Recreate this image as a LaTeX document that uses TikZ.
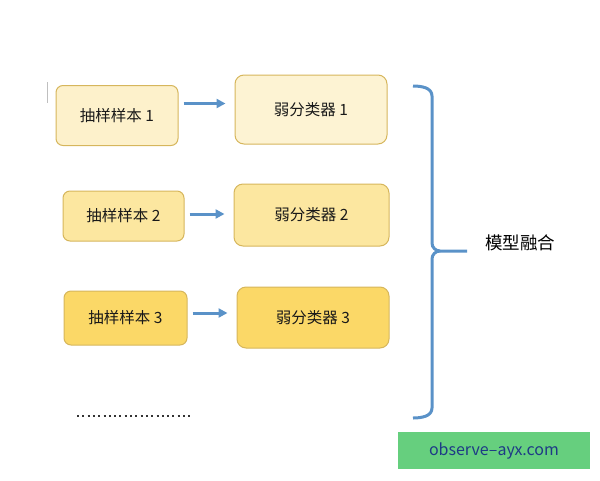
\documentclass[tikz,border=0pt]{standalone}
\usepackage{fontspec}
\setmainfont{Noto Sans CJK SC}
\usepackage{xcolor}
\usetikzlibrary{arrows.meta,positioning}

\definecolor{paleA}{HTML}{FDF1CB}
\definecolor{paleB}{HTML}{FCE7A0}
\definecolor{paleC}{HTML}{FBD867}
\definecolor{edgegold}{HTML}{D6B65C}
\definecolor{steel}{HTML}{5A92C8}
\definecolor{markgreen}{HTML}{66CF7E}
\definecolor{markblue}{HTML}{1E3A86}

\begin{document}
\begin{tikzpicture}[
  x=1pt, y=-1pt,
  sample/.style={
    draw=edgegold,
    line width=1pt,
    rounded corners=7pt,
    align=center,
    font=\fontsize{15.5}{18}\selectfont,
    text=black!90
  },
  learner/.style={sample, rounded corners=9pt},
  flow/.style={-{Triangle[length=9pt,width=9pt]}, line width=3pt, draw=steel,
    shorten <=5pt, shorten >=9pt},
  brace/.style={draw=steel, line width=3pt},
  note/.style={font=\fontsize{17.5}{20}\selectfont, text=black}
]
\useasboundingbox (0,0) rectangle (600,480);

\node[sample, fill=paleA, minimum width=122pt, minimum height=60pt] (s1) at (117,115.5)
  {抽样样本 1};
\node[learner, fill=paleA!85!white, minimum width=152pt, minimum height=69pt] (c1) at (311,109.5)
  {弱分类器 1};

\node[sample, fill=paleB, minimum width=121pt, minimum height=50pt] (s2) at (123.5,216)
  {抽样样本 2};
\node[learner, fill=paleB, minimum width=155pt, minimum height=62pt] (c2) at (311.5,215)
  {弱分类器 2};

\node[sample, fill=paleC, minimum width=123pt, minimum height=54pt] (s3) at (125.5,318)
  {抽样样本 3};
\node[learner, fill=paleC, minimum width=152pt, minimum height=61pt] (c3) at (313,317.5)
  {弱分类器 3};

\draw[flow] ([yshift=12pt]s1.east) -- ([yshift=12pt]s1.east -| c1.west);
\draw[flow] ([yshift=2pt]s2.east) -- ([yshift=2pt]s2.east -| c2.west);
\draw[flow] ([yshift=5pt]s3.east) -- ([yshift=5pt]s3.east -| c3.west);

% bracket over all learners
\coordinate (tip) at (467,251);
\draw[brace] (413,86) to[out=0,in=90] (432,96) -- (432,243)
  to[out=-90,in=180] (440,251) -- (tip);
\draw[brace] (440,251) to[out=180,in=90] (432,259) -- (432,408)
  to[out=-90,in=0] (413,418);

\node[note] (fuse) at (520,243) {模型融合};

\draw[line width=2pt, black!80, dash pattern=on 2pt off 3.3pt] (77,416) -- (193,416);
\draw[black!25, line width=1pt] (47,82) -- (47,103);

\node[fill=markgreen, minimum width=192pt, minimum height=37pt,
  font=\fontsize{16}{18}\selectfont, text=markblue] (mark) at (494,450.5)
  {observe–ayx.com};

\end{tikzpicture}
\end{document}
